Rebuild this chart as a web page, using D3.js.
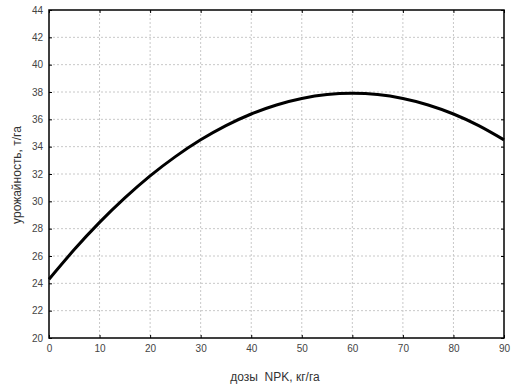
<!DOCTYPE html>
<html>
<head>
<meta charset="utf-8">
<script src="https://cdn.jsdelivr.net/npm/d3@7"></script>
<style>
body { margin: 0; background: #fff; }
</style>
</head>
<body>
<svg id="chart"></svg>
<script>
// doses NPK, kg/ha and yield, t/ha
let doses = [0, 5, 10, 15, 20, 25, 30, 35, 40, 45, 50, 55, 60, 65, 70, 75, 80, 85, 90];
let yieldVals = [24.3, 26.47, 28.46, 30.25, 31.86, 33.27, 34.5, 35.54, 36.39, 37.05, 37.52, 37.81, 37.9, 37.81, 37.52, 37.05, 36.39, 35.54, 34.5];
let xTicks = [0, 10, 20, 30, 40, 50, 60, 70, 80, 90];
let yTicks = [20, 22, 24, 26, 28, 30, 32, 34, 36, 38, 40, 42, 44];
let xTitle = "дозы  NPK, кг/га";
let yTitle = "урожайность, т/га";

let W = 524, H = 388;
let margin = {top: 10, right: 20, bottom: 50, left: 49},
    width = W - margin.left - margin.right,
    height = H - margin.top - margin.bottom;

let svg = d3.select("#chart")
    .attr("width", W)
    .attr("height", H)
    .append("g")
    .attr("transform", "translate(" + margin.left + "," + margin.top + ")");

let x = d3.scaleLinear().domain([0, 90]).range([0, width]);
let y = d3.scaleLinear().domain([20, 44]).range([height, 0]);

//grid
svg.append("g").selectAll("line.gx")
    .data(xTicks.slice(1, -1))
    .enter().append("line")
    .attr("x1", d => x(d)).attr("x2", d => x(d))
    .attr("y1", 0).attr("y2", height)
    .style("stroke", "#c8c8c8").style("stroke-dasharray", "2,2");
svg.append("g").selectAll("line.gy")
    .data(yTicks.slice(1, -1))
    .enter().append("line")
    .attr("x1", 0).attr("x2", width)
    .attr("y1", d => y(d)).attr("y2", d => y(d))
    .style("stroke", "#c8c8c8").style("stroke-dasharray", "2,2");

//axes
function styleAxis(g) {
    g.select(".domain").remove();
    g.selectAll("text")
        .style("font-family", "'Liberation Sans Narrow', 'Liberation Sans', Arial, sans-serif")
        .style("font-size", "10px")
        .style("fill", "#444");
    g.selectAll("line").style("stroke", "#000");
}
svg.append("g")
    .attr("transform", "translate(0," + height + ")")
    .call(d3.axisBottom(x).tickValues(xTicks).tickSizeInner(-3).tickSizeOuter(0).tickPadding(7))
    .call(styleAxis);
svg.append("g")
    .call(d3.axisLeft(y).tickValues(yTicks).tickSizeInner(-3).tickSizeOuter(0).tickPadding(6))
    .call(styleAxis);
svg.append("g")
    .call(d3.axisTop(x).tickValues(xTicks).tickSizeInner(-3).tickSizeOuter(0).tickFormat(""))
    .call(styleAxis);
svg.append("g")
    .attr("transform", "translate(" + width + ",0)")
    .call(d3.axisRight(y).tickValues(yTicks).tickSizeInner(-3).tickSizeOuter(0).tickFormat(""))
    .call(styleAxis);

//frame
svg.append("rect")
    .attr("x", 0).attr("y", 0)
    .attr("width", width).attr("height", height)
    .style("fill", "none").style("stroke", "#000").style("stroke-width", 1.5);

//curve
let data = doses.map((d, i) => ({dose: d, val: yieldVals[i]}));
let valueline = d3.line()
    .curve(d3.curveNatural)
    .x(d => x(d.dose))
    .y(d => y(d.val));
svg.append("path")
    .datum(data)
    .attr("d", valueline)
    .style("fill", "none")
    .style("stroke", "#000")
    .style("stroke-width", 3);

//axis titles
svg.append("text")
    .attr("x", 226)
    .attr("y", height + 43)
    .style("text-anchor", "middle")
    .style("white-space", "pre")
    .style("font-family", "'Liberation Sans', Arial, sans-serif")
    .style("font-size", "12px")
    .style("fill", "#333")
    .text(xTitle);
svg.append("text")
    .attr("transform", "rotate(-90)")
    .attr("x", -165)
    .attr("y", -28)
    .style("text-anchor", "middle")
    .style("font-family", "'Liberation Sans', Arial, sans-serif")
    .style("font-size", "12px")
    .style("fill", "#333")
    .text(yTitle);
</script>
</body>
</html>
